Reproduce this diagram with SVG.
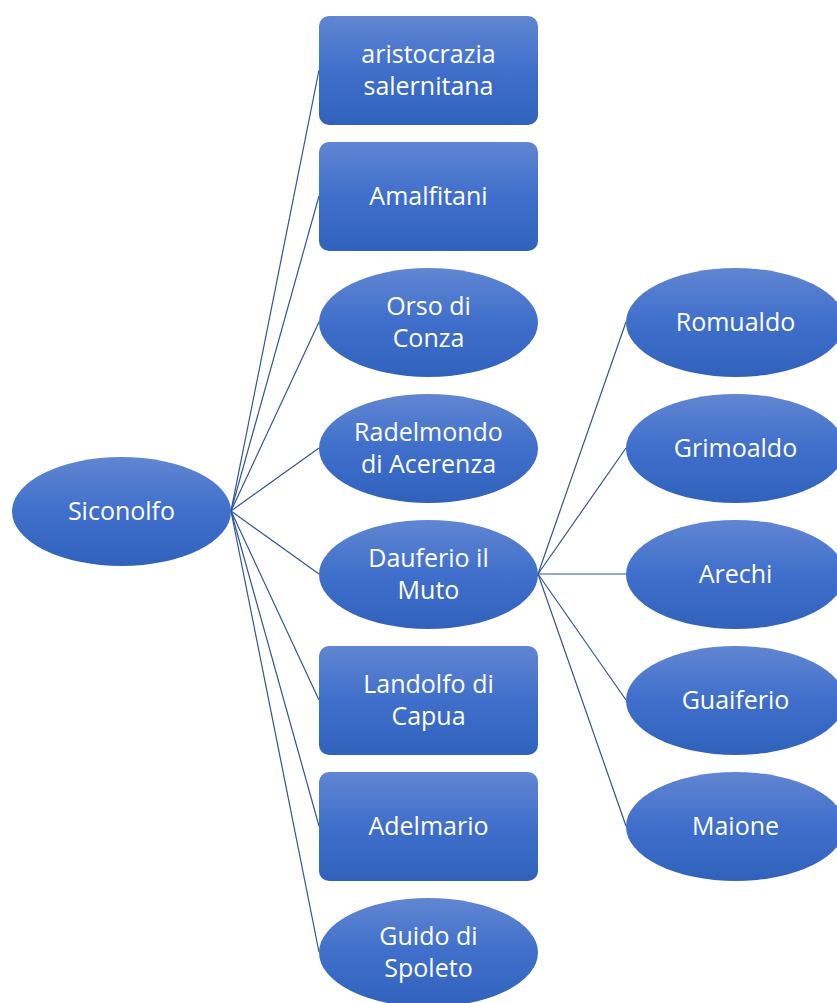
<svg xmlns="http://www.w3.org/2000/svg" width="837" height="1003" viewBox="0 0 837 1003">
<defs>
<linearGradient id="g" x1="0" y1="0" x2="0" y2="1">
<stop offset="0" stop-color="#6186d2"/>
<stop offset="0.5" stop-color="#3f6fcb"/>
<stop offset="1" stop-color="#3062bc"/>
</linearGradient>
<style>
.n{fill:url(#g);}
.t{font-family:"Open Sans","Noto Sans","Liberation Sans",sans-serif;font-size:25px;fill:#ffffff;text-anchor:middle;dominant-baseline:central;}
.c line{stroke:#2f5597;stroke-width:1.2;}
</style>
</defs>
<rect width="837" height="1003" fill="#ffffff"/>
<g class="c" id="connectors">
<line x1="231" y1="511" x2="319" y2="70"/>
<line x1="231" y1="511" x2="319" y2="196"/>
<line x1="231" y1="511" x2="319" y2="322"/>
<line x1="231" y1="511" x2="319" y2="448"/>
<line x1="231" y1="511" x2="319" y2="574"/>
<line x1="231" y1="511" x2="319" y2="700"/>
<line x1="231" y1="511" x2="319" y2="826"/>
<line x1="231" y1="511" x2="319" y2="952"/>
<line x1="538" y1="574" x2="626" y2="322"/>
<line x1="538" y1="574" x2="626" y2="448"/>
<line x1="538" y1="574" x2="626" y2="574"/>
<line x1="538" y1="574" x2="626" y2="700"/>
<line x1="538" y1="574" x2="626" y2="826"/>
</g>
<g id="siconolfo"><ellipse class="n" cx="121.5" cy="511.5" rx="109.5" ry="54.5"/><text class="t" x="121.5" y="510">Siconolfo</text></g>
<g id="aristocrazia"><rect class="n" x="319" y="16" width="219" height="109" rx="10"/><text class="t" x="428.5" y="53">aristocrazia</text><text class="t" x="428.5" y="85">salernitana</text></g>
<g id="amalfitani"><rect class="n" x="319" y="142" width="219" height="109" rx="10"/><text class="t" x="428.5" y="195">Amalfitani</text></g>
<g id="orso"><ellipse class="n" cx="428.5" cy="322.5" rx="109.5" ry="54.5"/><text class="t" x="428.5" y="305">Orso di</text><text class="t" x="428.5" y="337">Conza</text></g>
<g id="radelmondo"><ellipse class="n" cx="428.5" cy="448.5" rx="109.5" ry="54.5"/><text class="t" x="428.5" y="431">Radelmondo</text><text class="t" x="428.5" y="463">di Acerenza</text></g>
<g id="dauferio"><ellipse class="n" cx="428.5" cy="574.5" rx="109.5" ry="54.5"/><text class="t" x="428.5" y="557">Dauferio il</text><text class="t" x="428.5" y="589">Muto</text></g>
<g id="landolfo"><rect class="n" x="319" y="646" width="219" height="109" rx="10"/><text class="t" x="428.5" y="683">Landolfo di</text><text class="t" x="428.5" y="715">Capua</text></g>
<g id="adelmario"><rect class="n" x="319" y="772" width="219" height="109" rx="10"/><text class="t" x="428.5" y="825">Adelmario</text></g>
<g id="guido"><ellipse class="n" cx="428.5" cy="952.5" rx="109.5" ry="54.5"/><text class="t" x="428.5" y="935">Guido di</text><text class="t" x="428.5" y="967">Spoleto</text></g>
<g id="romualdo"><ellipse class="n" cx="735.5" cy="322.5" rx="109.5" ry="54.5"/><text class="t" x="735.5" y="321">Romualdo</text></g>
<g id="grimoaldo"><ellipse class="n" cx="735.5" cy="448.5" rx="109.5" ry="54.5"/><text class="t" x="735.5" y="447">Grimoaldo</text></g>
<g id="arechi"><ellipse class="n" cx="735.5" cy="574.5" rx="109.5" ry="54.5"/><text class="t" x="735.5" y="573">Arechi</text></g>
<g id="guaiferio"><ellipse class="n" cx="735.5" cy="700.5" rx="109.5" ry="54.5"/><text class="t" x="735.5" y="699">Guaiferio</text></g>
<g id="maione"><ellipse class="n" cx="735.5" cy="826.5" rx="109.5" ry="54.5"/><text class="t" x="735.5" y="825">Maione</text></g>
</svg>
